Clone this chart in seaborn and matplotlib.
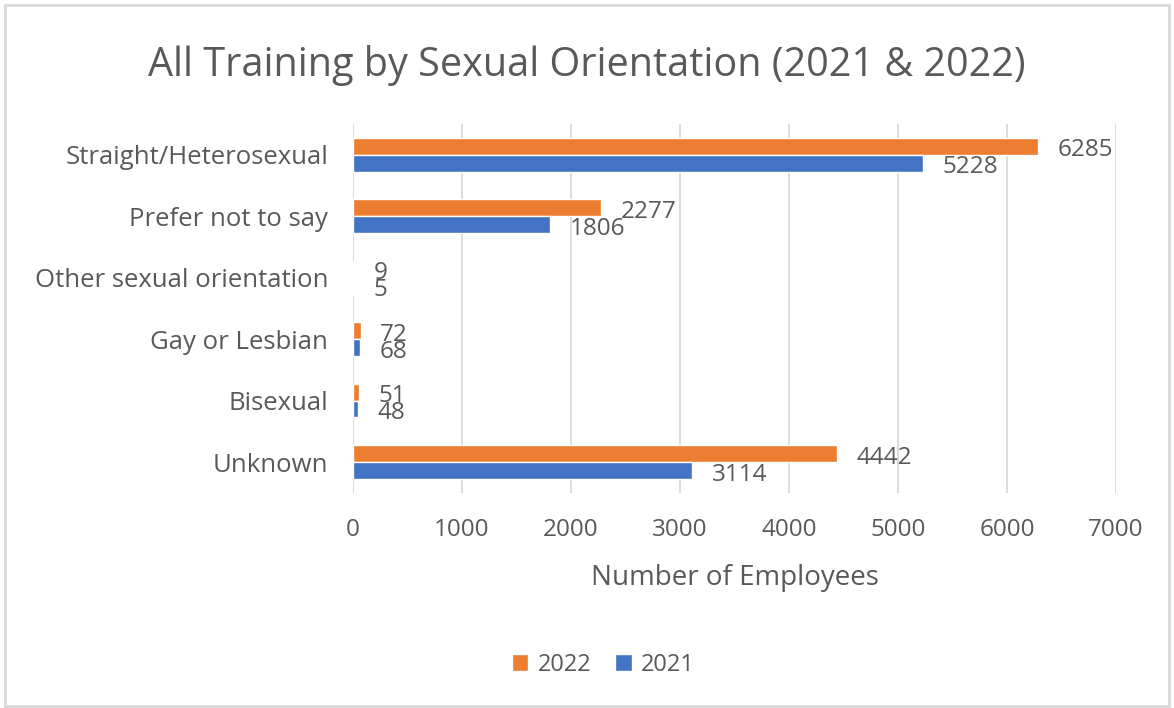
import matplotlib
matplotlib.use("Agg")
import matplotlib.pyplot as plt
import seaborn as sns
import pandas as pd

# data
categories = ['Straight/Heterosexual', 'Prefer not to say', 'Other sexual orientation',
              'Gay or Lesbian', 'Bisexual', 'Unknown']
vals_2022 = [6285, 2277, 9, 72, 51, 4442]
vals_2021 = [5228, 1806, 5, 68, 48, 3114]
years = ['2022', '2021']
cores = {'2022': '#ED7D31', '2021': '#4472C4'}

df = pd.DataFrame({
    'Categoria': categories * 2,
    'Ano': ['2022'] * len(categories) + ['2021'] * len(categories),
    'Valor': vals_2022 + vals_2021,
})

sns.set_style('white')
plt.rcParams['font.family'] = ['Open Sans', 'DejaVu Sans']
txt = '#595959'

fig = plt.figure(figsize=(11.74, 7.08), dpi=100)
ax = fig.add_axes([0.3007, 0.304, 0.6499, 0.521])

sns.barplot(data=df, y='Categoria', x='Valor', hue='Ano', hue_order=years,
            order=categories, palette=cores, width=0.55, orient='h', ax=ax,
            saturation=1, legend=True)

ax.set_xlim(0, 7000)
ax.set_xticks(range(0, 7001, 1000))
ax.xaxis.grid(True, color='#d9d9d9', linewidth=1.3)
ax.set_axisbelow(True)
for s in ax.spines.values():
    s.set_visible(False)
ax.tick_params(axis='both', length=0, labelcolor=txt)
ax.tick_params(axis='x', pad=18, labelsize=17.5)
ax.tick_params(axis='y', pad=18, labelsize=18.5)
ax.set_ylabel('')
ax.set_xlabel('Number of Employees', fontsize=20, color=txt, labelpad=16)

# rotulos de dados
for cont in ax.containers:
    for bar in cont:
        w = bar.get_width()
        y = bar.get_y() + bar.get_height() / 2
        ax.annotate(f'{int(w)}', (w, y), xytext=(14, -3), textcoords='offset points',
                    va='center', ha='left', fontsize=17.5, color=txt)

fig.suptitle('All Training by Sexual Orientation (2021 & 2022)', fontsize=28.5,
             color=txt, y=0.937)

handles, labels = ax.get_legend_handles_labels()
ax.get_legend().remove()
leg = fig.legend(handles, labels, loc='center', bbox_to_anchor=(0.514, 0.061),
                 ncol=2, frameon=False, fontsize=17, handlelength=0.7, handleheight=0.7,
                 columnspacing=1.0, handletextpad=0.4)
for t in leg.get_texts():
    t.set_color(txt)

# borda da figura
fig.patches.append(plt.Rectangle((0.004, 0.003), 0.992, 0.99, transform=fig.transFigure,
                                 fill=False, edgecolor='#d9d9d9', linewidth=2))

plt.savefig('out.png', dpi=100)
